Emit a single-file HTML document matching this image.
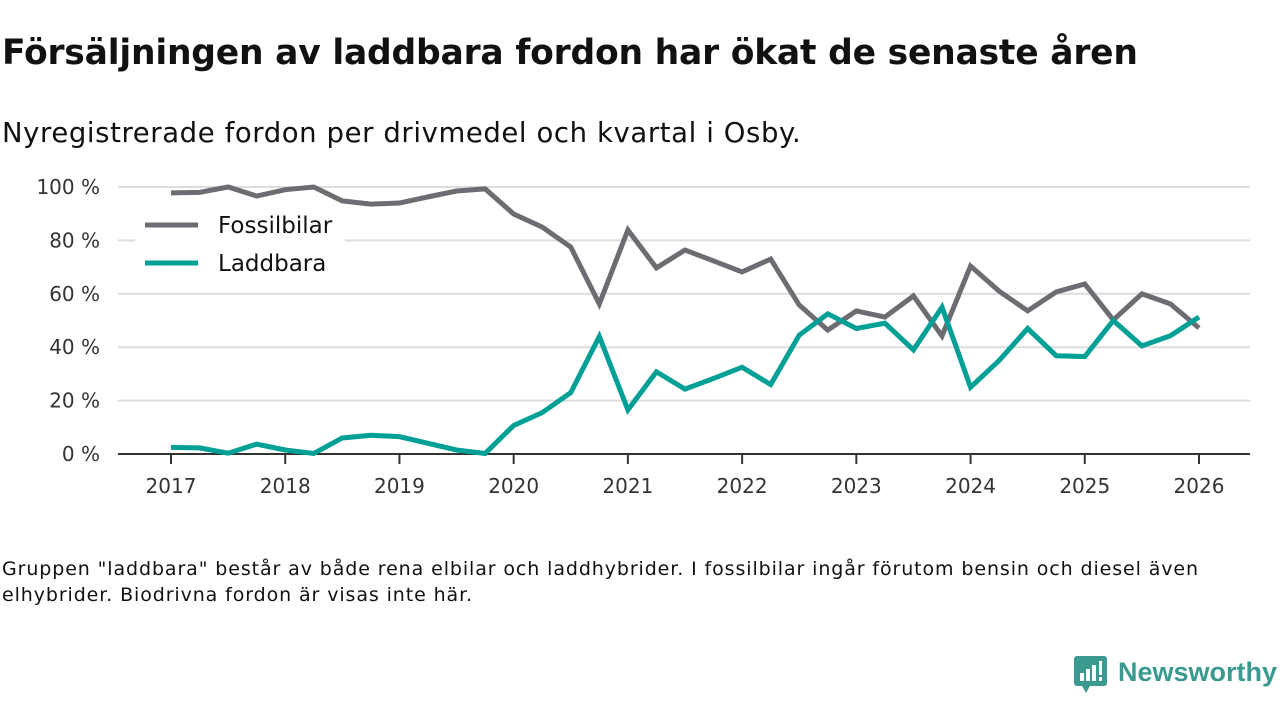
<!DOCTYPE html>
<html><head><meta charset="utf-8"><style>
body{margin:0;width:1280px;height:720px;background:#fff;font-family:"DejaVu Sans","Liberation Sans",sans-serif;color:#111;overflow:hidden;position:relative}
#title{position:absolute;left:2px;top:33px;font-size:34.5px;font-weight:bold;letter-spacing:-0.2px}
#sub{position:absolute;left:2px;top:117px;font-size:27.5px;letter-spacing:0.6px}
#note{position:absolute;left:2px;top:556px;font-size:19px;line-height:26px;width:1215px;letter-spacing:0.9px}
#logo{position:absolute;left:1072px;top:654px}
</style></head><body>
<div id="title">Försäljningen av laddbara fordon har ökat de senaste åren</div>
<div id="sub">Nyregistrerade fordon per drivmedel och kvartal i Osby.</div>
<svg id="chart" width="1280" height="720" style="position:absolute;left:0;top:0"></svg>
<div id="note">Gruppen "laddbara" består av både rena elbilar och laddhybrider. I fossilbilar ingår förutom bensin och diesel även elhybrider. Biodrivna fordon är visas inte här.</div>
<div id="logo">
<svg width="208" height="42"><rect x="2" y="2" width="33" height="30" rx="3" fill="#3a9a8f"/><polygon points="10,32 18,32 14,39" fill="#3a9a8f"/><rect x="8" y="19" width="4" height="8" fill="#fff"/><rect x="14" y="15" width="4" height="12" fill="#fff"/><rect x="20" y="11" width="4" height="16" fill="#fff"/><rect x="27" y="7" width="3" height="14" fill="#fff"/><rect x="27" y="23" width="3" height="4" fill="#fff"/>
<text x="46" y="27" font-size="27" fill="#3a9a8f" font-family="Liberation Sans, sans-serif" font-weight="bold">Newsworthy</text></svg></div>
<script>
const years=["2017","2018","2019","2020","2021","2022","2023","2024","2025","2026"];
const yTicks=[0,20,40,60,80,100];
const fossil=[97.8,98,100,96.6,99,100,94.8,93.6,94,96.3,98.5,99.3,89.9,85,77.5,56.2,83.9,69.7,76.4,72.3,68.2,73,55.8,46.4,53.6,51.3,59.2,44.2,70.4,61,53.6,60.7,63.7,50.2,60,56.2,47.2];
const laddbara=[2.5,2.3,0.3,3.7,1.5,0.2,6,7,6.5,4,1.5,0.2,10.7,15.5,23,44,16.5,30.8,24.3,28.3,32.5,26,44.5,52.5,47,49,39,55,25,35,47,36.8,36.5,50,40.5,44.3,51.3];
const svg=document.getElementById('chart');const NS='http://www.w3.org/2000/svg';
const x=i=>171+i*(1199-171)/36;const y=v=>454-v*2.67;
function mk(t,a,p){const e=document.createElementNS(NS,t);for(const k in a)e.setAttribute(k,a[k]);(p||svg).appendChild(e);return e;}
yTicks.forEach(v=>{
 if(v>0){const g=mk('line',{x1:118,x2:1250,y1:y(v),y2:y(v),stroke:'#ddd','stroke-width':2});
 
 }
 const t=mk('text',{x:100,y:y(v)+7,'text-anchor':'end','font-size':20,fill:'#333'});t.textContent=v+' %';
 
 
});
const ax=mk('line',{x1:118,x2:1250,y1:454,y2:454,stroke:'#333','stroke-width':2});


years.forEach((yr,j)=>{const xx=x(j*4);
 mk('line',{x1:xx,x2:xx,y1:454,y2:464,stroke:'#333','stroke-width':2});
 const t=mk('text',{x:xx,y:493,'text-anchor':'middle','font-size':20,fill:'#333'});t.textContent=yr;
 
 
});
function line(d,c,n){const p=mk('polyline',{points:d.map((v,i)=>x(i)+','+y(v)).join(' '),fill:'none',stroke:c,'stroke-width':5,'stroke-linejoin':'miter'});
 
 }
line(fossil,'#6e6c72','fossilbilar-line');line(laddbara,'#00a096','laddbara-line');
const lb=mk('rect',{x:135,y:205,width:210,height:80,fill:'#fff'});


[['Fossilbilar','#6e6c72',225],['Laddbara','#00a096',263]].forEach(([n,c,yy])=>{
 mk('line',{x1:145,x2:198,y1:yy,y2:yy,stroke:c,'stroke-width':5});
 const t=mk('text',{x:218,y:yy+8,'font-size':23,fill:'#111'});t.textContent=n;
 
 
});
</script>
</body></html>
